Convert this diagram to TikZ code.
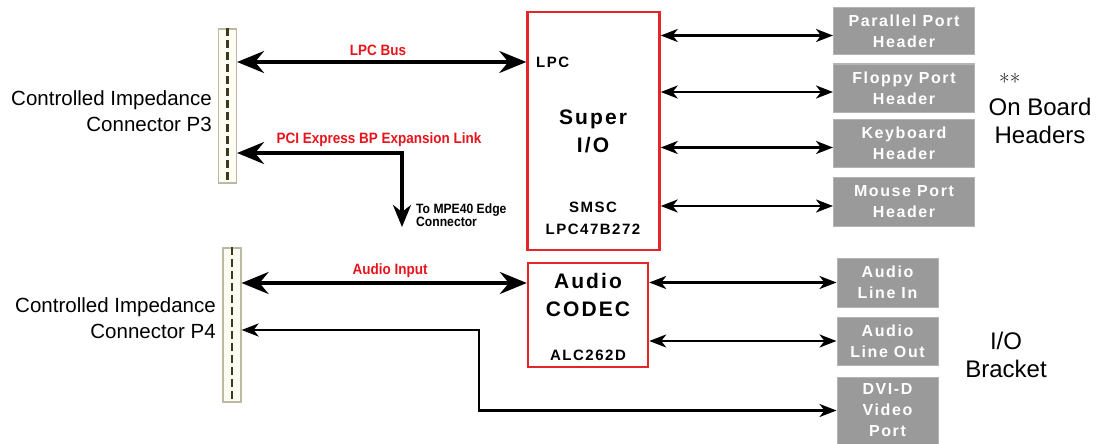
\documentclass[tikz,border=0pt]{standalone}
\usepackage{fontspec}
\setsansfont{Liberation Sans}
\newfontfamily\chipfont[LetterSpace=10]{Liberation Sans}
\newfontfamily\narrowfont[FakeStretch=0.9]{Liberation Sans}
\usetikzlibrary{arrows.meta,positioning,calc}
\definecolor{chipred}{HTML}{E4262B}
\definecolor{busred}{HTML}{E8141C}
\definecolor{hdrgray}{HTML}{9A9A9A}
\definecolor{hdredge}{HTML}{B4B4B4}
\definecolor{connfill}{HTML}{FDFDF3}
\definecolor{connedge}{HTML}{B9B9A4}
\definecolor{connpin}{HTML}{3B3B1C}

\begin{document}
\begin{tikzpicture}[x=1pt, y=-1pt,
  font=\sffamily,
  conn/.style={draw=connedge, fill=connfill, line width=1.2pt, minimum width=18pt, minimum height=154pt, inner sep=0pt},
  pins/.style={draw=connpin, line width=2.4pt, dash pattern=on 8pt off 4pt},
  chip/.style={draw=chipred, line width=2.4pt, inner sep=0pt},
  chipbig/.style={align=center, inner sep=0pt, font=\chipfont\bfseries\fontsize{21}{28}\selectfont},
  chipsm/.style={align=center, inner sep=0pt, font=\chipfont\bfseries\fontsize{15}{22}\selectfont},
  hdr/.style={fill=hdrgray, draw=hdredge, line width=1pt, text=white, align=center, inner sep=0pt, minimum width=141pt, minimum height=48pt, font=\chipfont\bfseries\fontsize{16}{21}\selectfont},
  bkt/.style={hdr, minimum width=101pt},
  side/.style={align=center, inner sep=0pt, font=\sffamily\fontsize{20.5}{26}\selectfont},
  grp/.style={align=center, inner sep=0pt, font=\sffamily\fontsize{24}{28}\selectfont},
  bus/.style={inner sep=0pt, text=busred, font=\narrowfont\bfseries\fontsize{15}{18}\selectfont},
  note/.style={inner sep=0pt, align=left, font=\narrowfont\bfseries\fontsize{13.5}{13.5}\selectfont},
  big/.style={line width=3.3pt, {Stealth[length=27pt,width=22pt,inset=9pt]}-{Stealth[length=27pt,width=22pt,inset=9pt]}},
  med/.style={line width=2.6pt, {Stealth[length=17pt,width=13pt,inset=5pt]}-{Stealth[length=17pt,width=13pt,inset=5pt]}},
]
\useasboundingbox[fill=white] (0,0) rectangle (1102,444);
% ---------------- connectors ----------------
\node[conn] (p3) at (227.5,106) {};
\draw[pins] (p3.north) -- (p3.south);
\node[conn] (p4) at (232,325) {};
\draw[pins] (p4.north) -- (p4.south);
\node[side, anchor=east, align=right] (p3lbl) at (212,111) {Controlled Impedance\\Connector P3};
\node[side, anchor=east, align=right] (p4lbl) at (216,318) {Controlled Impedance\\Connector P4};
% ---------------- chips ----------------
\node[chip, minimum width=132pt, minimum height=238pt] (sio) at (593.5,131) {};
\node[chipbig] (siotxt) at (593,131) {Super\\I/O};
\node[chipsm] (smsc) at (593,218) {SMSC\\LPC47B272};
\node[chipsm, anchor=west] (lpc) at (536,62) {LPC};
\node[chip, minimum width=120pt, minimum height=104pt] (codec) at (588,315) {};
\node[chipbig] (codtxt) at (588,294.5) {Audio\\CODEC};
\node[chipsm] (alc) at (588,355) {ALC262D};
% ---------------- headers / bracket ----------------
\node[hdr, minimum height=47pt] (par) at (904,31.5) {Parallel Port\\Header};
\node[hdr] (flp) at (904,88) {Floppy Port\\Header};
\node[hdr] (kbd) at (904,143.5) {Keyboard\\Header};
\node[hdr, minimum height=49pt] (mou) at (904,202) {Mouse Port\\Header};
\node[bkt, minimum height=49pt] (lin) at (887.5,282.5) {Audio\\Line In};
\node[bkt] (lout) at (887.5,341) {Audio\\Line Out};
\node[bkt, minimum height=67pt] (dvi) at (887.5,410.5) {DVI-D\\Video\\Port};
\node[inner sep=0pt, anchor=north west, font=\rmfamily\fontsize{23}{23}\selectfont] (ast) at (999,73) {**};
\node[grp] (onb) at (1040,121) {On Board\\Headers};
\node[grp] (iob) at (1006,355) {I/O\\Bracket};
% ---------------- buses ----------------
\draw[big] (p3.east |- lpc.west) -- (sio.west |- lpc.west);
\node[bus] (lpcbus) at (378,50) {LPC Bus};
\coordinate (pcibend) at (402,153);
\coordinate (mpe) at (402,227);
\draw[line width=3.3pt, {Stealth[length=27pt,width=22pt,inset=9pt]}-{Stealth[length=22pt,width=18pt,inset=7pt]}]
  (p3.east |- pcibend) -- (pcibend) -- (mpe);
\node[bus] (pcibus) at (379,140) {PCI Express BP Expansion Link};
\node[note, anchor=west] (mpetxt) at (416,215) {To MPE40 Edge\\Connector};
\coordinate (ain) at ([yshift=32pt]codec.west);
\draw[big] (p4.east |- ain) -- (ain);
\node[bus] (ainbus) at (390,271) {Audio Input};
\foreach \h in {par,flp,kbd,mou}
  \draw[med] ($(sio.east |- \h.west)+(0,4)$) -- ($(\h.west)+(0,4)$);
\draw[med] (codec.east |- lin.west) -- (lin.west);
\draw[med] (codec.east |- lout.west) -- (lout.west);
\coordinate (dvibend) at (479,330);
\draw[med] (p4.east |- dvibend) -- (dvibend) -- (dvibend |- dvi.west) -- (dvi.west);
\end{tikzpicture}
\end{document}
